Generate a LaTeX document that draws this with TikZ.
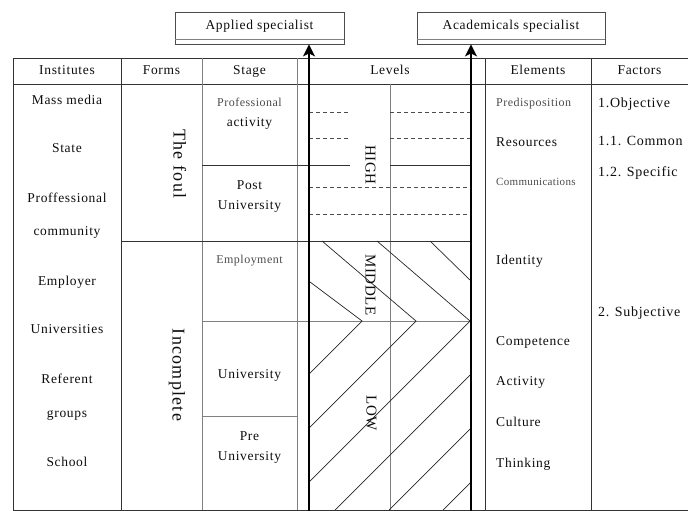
\documentclass[tikz,border=0pt]{standalone}
\usepackage{fontspec}
\setmainfont{Liberation Serif}
\newfontfamily\fa{Liberation Serif}[LetterSpace=5]
\newfontfamily\fb{Liberation Serif}[LetterSpace=4]
\newfontfamily\fc{Liberation Serif}[LetterSpace=7]
\newfontfamily\fd{Liberation Serif}[LetterSpace=3]
\usetikzlibrary{arrows.meta}
\begin{document}
\begin{tikzpicture}[x=1pt,y=-1pt,
  lbl/.style={inner sep=0pt, text height=0.66em, text depth=0pt, text=black!95, font=\fa\fontsize{13.5}{15}\selectfont},
  fac/.style={lbl, anchor=west, font=\fa\fontsize{14}{16}\selectfont},
  elem/.style={lbl, anchor=west},
  faint/.style={lbl, text=black!70, font=\fb\fontsize{12}{14}\selectfont},
  tinylbl/.style={lbl, text=black!70, font=\fd\fontsize{11}{13}\selectfont},
  formlbl/.style={lbl, rotate=-90, font=\fc\fontsize{18}{20}\selectfont},
  levlbl/.style={lbl, rotate=-90, font=\fd\fontsize{15}{17}\selectfont},
  gridline/.style={draw=black!80, line width=0.8pt},
  softline/.style={draw=black!50, line width=0.8pt},
  dashline/.style={draw=black!70, line width=0.7pt, dash pattern=on 4pt off 3pt},
  hatch/.style={draw=black!85, line width=0.7pt},
  specbox/.style={lbl, draw=black!70, line width=0.8pt, minimum height=32pt, text depth=4pt},
  rise/.style={draw=black, line width=2pt, -{Stealth[length=12pt,width=12pt,inset=3pt]}}
]
\useasboundingbox (0,0) rectangle (688,511);

% top boxes
\node[specbox, minimum width=169pt] (ap) at (259.5,28) {Applied specialist};
\node[specbox, minimum width=188pt] (ac) at (511,28) {Academicals specialist};
\draw[softline] ([yshift=5pt]ap.south west) -- ([yshift=5pt]ap.south east);
\draw[softline] ([yshift=5pt]ac.south west) -- ([yshift=5pt]ac.south east);

% table frame
\draw[gridline] (13,58) -- (688,58);
\draw[gridline] (13,84) -- (688,84);
\draw[gridline] (13,510) -- (688,510);
\draw[gridline] (13,58) -- (13,510);
\draw[gridline] (121,58) -- (121,510);
\draw[softline] (202,58) -- (202,510);
\draw[softline] (297,58) -- (297,510);
\draw[softline] (390,84) -- (390,510);
\draw[gridline] (485,58) -- (485,510);
\draw[gridline] (591,58) -- (591,510);

% horizontal divisions
\draw[gridline] (202,165) -- (350,165);
\draw[gridline] (390,165) -- (471,165);
\draw[gridline] (121,241) -- (471,241);
\draw[softline] (202,321) -- (471,321);
\draw[softline] (202,416) -- (297,416);

% dashed lines (HIGH)
\draw[dashline] (309,112) -- (350,112);
\draw[dashline] (390,112) -- (471,112);
\draw[dashline] (309,138) -- (350,138);
\draw[dashline] (390,138) -- (471,138);
\draw[dashline] (309,187) -- (471,187);
\draw[dashline] (309,214) -- (471,214);

% hatching (MIDDLE / LOW)
\draw[hatch] (310,282) -- (362,321) -- (309,374);
\draw[hatch] (322,241) -- (416,321) -- (309,428);
\draw[hatch] (377,241) -- (470,321) -- (309,482);
\draw[hatch] (430,241) -- (470,280);
\draw[hatch] (471,374) -- (335,510);
\draw[hatch] (471,428) -- (389,510);
\draw[hatch] (471,482) -- (443,510);

% thick arrows
\coordinate (b1) at (309,511);
\coordinate (b2) at (471,511);
\draw[rise] (b1) -- (b1 |- ap.south);
\draw[rise] (b2) -- (b2 |- ac.south);

% headers
\node[lbl] (h1) at (67,71) {Institutes};
\node[lbl] (h2) at (161.5,71) {Forms};
\node[lbl] (h3) at (249.5,71) {Stage};
\node[lbl] (h4) at (390,71) {Levels};
\node[lbl] (h5) at (538,71) {Elements};
\node[lbl] (h6) at (639.5,71) {Factors};

% institutes
\node[lbl] (i1) at (67,101) {Mass media};
\node[lbl] (i2) at (67,149) {State};
\node[lbl] (i3) at (67,199) {Proffessional};
\node[lbl] (i4) at (67,232) {community};
\node[lbl] (i5) at (67,282) {Employer};
\node[lbl] (i6) at (67,330) {Universities};
\node[lbl] (i7) at (67,380) {Referent};
\node[lbl] (i8) at (67,414) {groups};
\node[lbl] (i9) at (67,463) {School};

% forms
\node[formlbl] (f1) at (177,164) {The foul};
\node[formlbl] (f2) at (176,375) {Incomplete};

% stage
\node[faint] (s1) at (249.5,103) {Professional};
\node[lbl] (s2) at (249.5,123) {activity};
\node[lbl] (s3) at (249.5,186) {Post};
\node[lbl] (s4) at (249.5,206) {University};
\node[faint] (s5) at (249.5,260) {Employment};
\node[lbl] (s6) at (249.5,375) {University};
\node[lbl] (s7) at (249.5,437) {Pre};
\node[lbl] (s8) at (249.5,457) {University};

% levels
\node[levlbl] (l1) at (369,165) {HIGH};
\node[levlbl] (l2) at (369,285) {MIDDLE};
\node[levlbl] (l3) at (370,413) {LOW};

% elements
\node[faint, anchor=west] (e1) at (496,103) {Predisposition};
\node[elem] (e2) at (496,143) {Resources};
\node[tinylbl, anchor=west] (e3) at (496,182) {Communications};
\node[elem] (e4) at (496,261) {Identity};
\node[elem] (e5) at (496,342) {Competence};
\node[elem] (e6) at (496,382) {Activity};
\node[elem] (e7) at (496,423) {Culture};
\node[elem] (e8) at (496,464) {Thinking};

% factors
\node[fac] (c1) at (598,104) {1.Objective};
\node[fac] (c2) at (598,142) {1.1. Common};
\node[fac] (c3) at (598,173) {1.2. Specific};
\node[fac] (c4) at (598,313) {2. Subjective};
\end{tikzpicture}
\end{document}
